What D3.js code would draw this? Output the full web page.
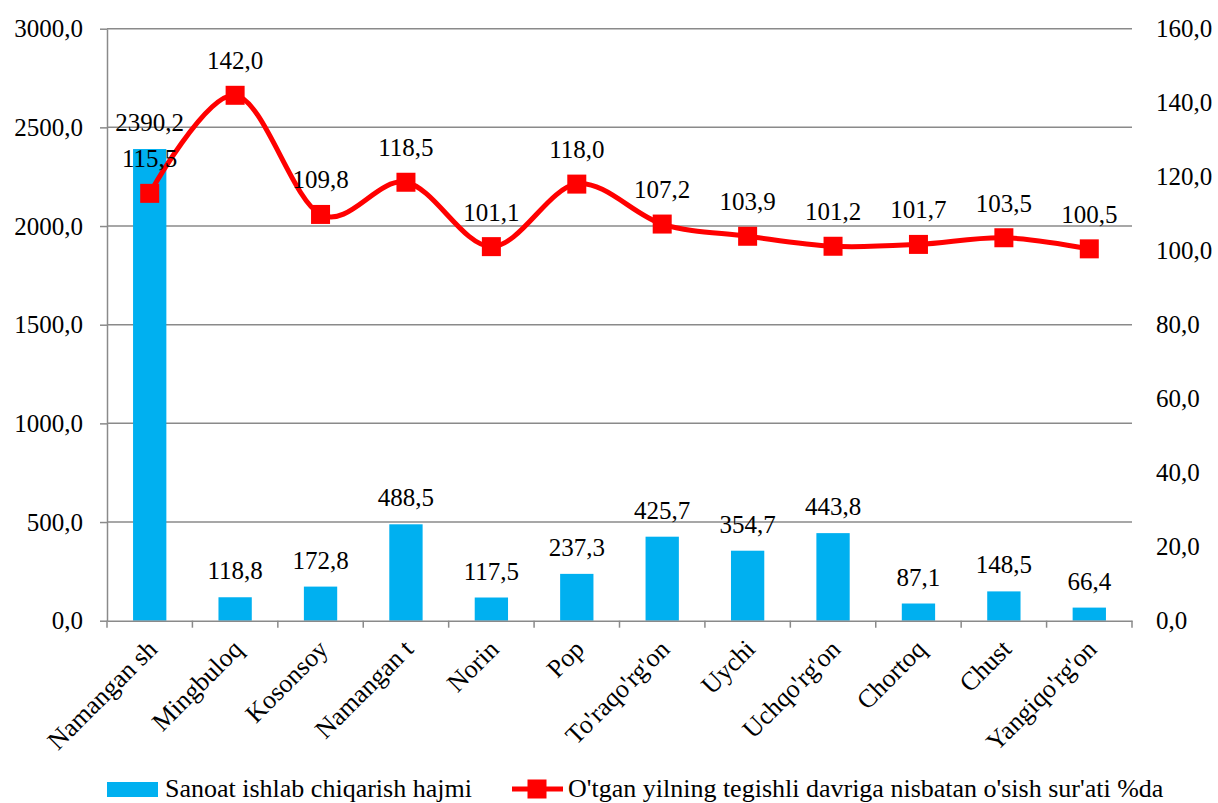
<!DOCTYPE html>
<html>
<head>
<meta charset="utf-8">
<script src="https://cdn.jsdelivr.net/npm/d3@7"></script>
</head>
<body style="margin:0;padding:0;background:#fff">
<svg id="chart" width="1218" height="803"></svg>
<script>
const categories = ["Namangan sh", "Mingbuloq", "Kosonsoy", "Namangan t", "Norin", "Pop",
  "To'raqo'rg'on", "Uychi", "Uchqo'rg'on", "Chortoq", "Chust", "Yangiqo'rg'on"];
const volumeValues = [2390.2, 118.8, 172.8, 488.5, 117.5, 237.3, 425.7, 354.7, 443.8, 87.1, 148.5, 66.4];
const growthValues = [115.5, 142.0, 109.8, 118.5, 101.1, 118.0, 107.2, 103.9, 101.2, 101.7, 103.5, 100.5];
const leftTicks = [0, 500, 1000, 1500, 2000, 2500, 3000];
const rightTicks = [0, 20, 40, 60, 80, 100, 120, 140, 160];
const seriesNames = ["Sanoat ishlab chiqarish hajmi", "O'tgan yilning tegishli davriga nisbatan o'sish sur'ati %da"];

const FONT = '"Liberation Serif"';
const fmt = v => v.toFixed(1).replace(".", ",");
const svg = d3.select("#chart");
const L = 107, R = 1132, T = 28.7, B = 620.7;
const gridColor = "#8a8a8a";
const barColor = "#00B0F0";
const lineColor = "#FF0000";

function serif(sel, size) {
  return sel.attr("font-family", "Liberation Serif").style("font-family", FONT)
    .style("font-size", size + "px").attr("fill", "#000");
}

const x = d3.scaleBand().domain(categories).range([L, R]).padding(0);
const yL = d3.scaleLinear().domain([0, 3000]).range([B, T]);
const yR = d3.scaleLinear().domain([0, 160]).range([B, T]);

// gridlines
svg.append("g").selectAll("line").data(leftTicks.filter(d => d > 0)).join("line")
  .attr("x1", L).attr("x2", R).attr("y1", d => yL(d)).attr("y2", d => yL(d))
  .attr("stroke", gridColor).attr("stroke-width", 1.5);

// bars
const bw = x.bandwidth() * 0.39;
svg.append("g").selectAll("rect").data(categories).join("rect")
  .attr("x", (d) => x(d) + x.bandwidth() / 2 - bw / 2)
  .attr("y", (d, i) => yL(volumeValues[i]))
  .attr("width", bw)
  .attr("height", (d, i) => B - yL(volumeValues[i]))
  .attr("fill", barColor);

// left axis
const gL = svg.append("g").attr("transform", `translate(${L},0)`)
  .call(d3.axisLeft(yL).tickValues(leftTicks).tickFormat(fmt).tickSize(7).tickSizeOuter(0));
gL.attr("font-family", "Liberation Serif").attr("font-size", 25);
gL.select(".domain").attr("stroke", gridColor).attr("stroke-width", 1.5);
gL.selectAll(".tick line").attr("stroke", gridColor).attr("stroke-width", 1.5);
serif(gL.selectAll(".tick text").attr("x", -24).attr("dy", "0.33em"), 25);

// right axis (labels only)
const gR = svg.append("g").attr("transform", `translate(${R},0)`)
  .call(d3.axisRight(yR).tickValues(rightTicks).tickFormat(fmt).tickSize(0).tickSizeOuter(0));
gR.attr("font-family", "Liberation Serif").attr("font-size", 25);
gR.select(".domain").remove();
serif(gR.selectAll(".tick text").attr("x", 24).attr("dy", "0.33em"), 25);

// bottom axis
const gB = svg.append("g").attr("transform", `translate(0,${B})`)
  .call(d3.axisBottom(x).tickSize(0).tickSizeOuter(0).tickFormat(""));
gB.select(".domain").attr("stroke", gridColor).attr("stroke-width", 1.5);
gB.selectAll(".tick").remove();
const boundaries = categories.map(c => x(c)).concat([R]);
gB.append("g").selectAll("line").data(boundaries).join("line")
  .attr("x1", d => d).attr("x2", d => d).attr("y1", 0).attr("y2", 7)
  .attr("stroke", gridColor).attr("stroke-width", 1.5);

// x labels rotated
serif(svg.append("g").selectAll("text").data(categories).join("text")
  .attr("transform", d => `translate(${x(d) + x.bandwidth() / 2 + 9},${B + 30}) rotate(-45)`)
  .attr("text-anchor", "end")
  .text(d => d), 26);

// bar labels
serif(svg.append("g").selectAll("text").data(categories).join("text")
  .attr("x", d => x(d) + x.bandwidth() / 2)
  .attr("y", (d, i) => yL(volumeValues[i]) - 18)
  .attr("text-anchor", "middle")
  .text((d, i) => fmt(volumeValues[i])), 25);

// line
const pts = categories.map((c, i) => [x(c) + x.bandwidth() / 2, yR(growthValues[i])]);
svg.append("path")
  .attr("d", d3.line().curve(d3.curveCardinal.tension(0))(pts))
  .attr("fill", "none").attr("stroke", lineColor).attr("stroke-width", 5)
  .attr("stroke-linejoin", "round");

const ms = 19;
svg.append("g").selectAll("rect").data(pts).join("rect")
  .attr("x", d => d[0] - ms / 2).attr("y", d => d[1] - ms / 2)
  .attr("width", ms).attr("height", ms).attr("fill", lineColor);

serif(svg.append("g").selectAll("text").data(categories).join("text")
  .attr("x", d => x(d) + x.bandwidth() / 2)
  .attr("y", (d, i) => yR(growthValues[i]) - 26)
  .attr("text-anchor", "middle")
  .text((d, i) => fmt(growthValues[i])), 25);

// legend
const lg = svg.append("g");
lg.append("rect").attr("x", 107).attr("y", 782).attr("width", 51).attr("height", 15).attr("fill", barColor);
serif(lg.append("text").attr("x", 165).attr("y", 797).text(seriesNames[0]), 26);
lg.append("line").attr("x1", 512).attr("x2", 563).attr("y1", 789).attr("y2", 789)
  .attr("stroke", lineColor).attr("stroke-width", 5);
lg.append("rect").attr("x", 537 - ms / 2).attr("y", 789 - ms / 2).attr("width", ms).attr("height", ms).attr("fill", lineColor);
serif(lg.append("text").attr("x", 568).attr("y", 797).text(seriesNames[1]), 26);
</script>
</body>
</html>
